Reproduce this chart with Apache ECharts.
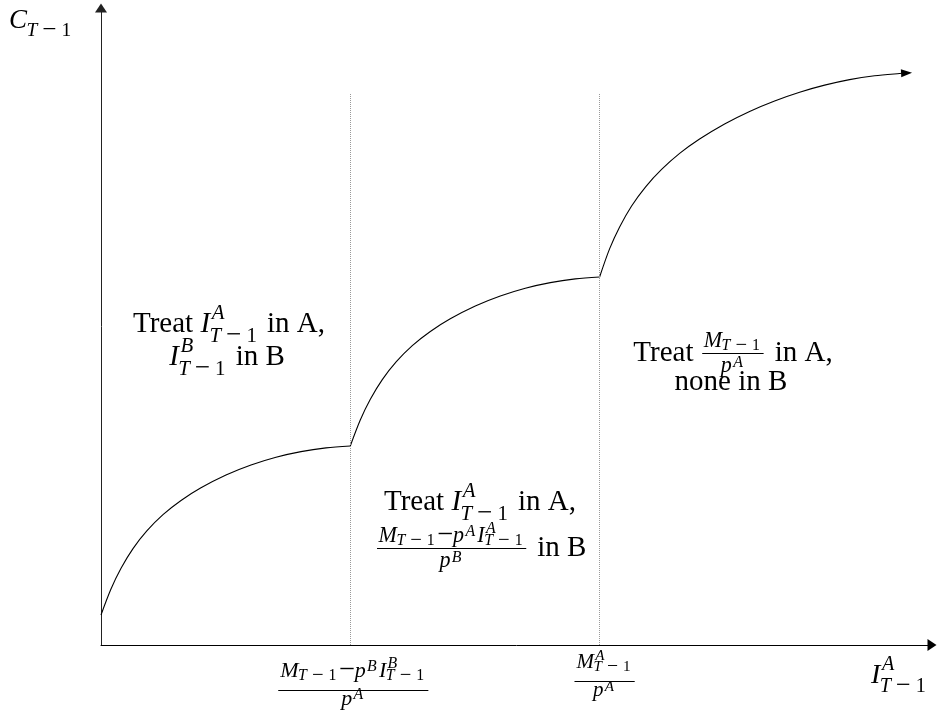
<!DOCTYPE html>
<html>
<head>
<meta charset="utf-8">
<script src="https://cdn.jsdelivr.net/npm/echarts@6/dist/echarts.min.js"></script>
<style>
html, body { margin: 0; padding: 0; background: #fff; }
#chart { width: 939px; height: 713px; }
</style>
</head>
<body>
<div id="chart"></div>
<script>
// curve pieces, axis units (x: 0..100, y: 0..100)
const seg1X = [0, 1.2, 2.41, 3.85, 5.54, 7.46, 9.63, 12.03, 15.04, 18.05, 21.06, 24.07, 27.08, 30];
const seg1Y = [4.71, 8.78, 12.04, 15.13, 17.94, 20.46, 22.69, 24.68, 26.69, 28.26, 29.48, 30.36, 30.94, 31.24];
const seg2X = [30, 31.2, 32.41, 33.85, 35.54, 37.46, 39.63, 42.03, 45.04, 48.05, 51.06, 54.07, 57.08, 60];
const seg2Y = [31.24, 35.31, 38.57, 41.66, 44.47, 46.99, 49.22, 51.21, 53.22, 54.79, 56.01, 56.89, 57.47, 57.77];
const seg3X = [60, 61.2, 62.41, 63.85, 65.54, 67.46, 69.63, 72.03, 75.04, 78.05, 81.06, 84.07, 87.08, 90.08, 93.09, 96.1, 96.94];
const seg3Y = [57.77, 62.18, 65.62, 68.92, 71.93, 74.65, 77.17, 79.43, 81.8, 83.77, 85.41, 86.78, 87.89, 88.76, 89.36, 89.72, 89.79];
// dotted guides at the two kinks
const guideX = [30, 60];
const guideTop = 86.66;

const FONT = '"Liberation Serif", "Times New Roman", serif';
const SR = 0.72;   // script size ratio
const KM = 0.32;   // middle -> baseline
const meas = document.createElement('canvas').getContext('2d');

function tw(t, size, it) {
  meas.font = (it ? 'italic ' : '') + size + 'px ' + FONT;
  return meas.measureText(t).width;
}
function put(out, t, x, base, size, it) {
  out.push({
    type: 'text', x: x, y: base - KM * size, silent: true,
    style: {
      text: t, fontSize: size, fontFamily: FONT, fontStyle: it ? 'italic' : 'normal',
      fill: '#000', align: 'left', verticalAlign: 'middle'
    }
  });
}
function bar(out, x1, x2, y) {
  out.push({ type: 'line', silent: true,
    shape: { x1: x1, y1: Math.round(y) + 0.5, x2: x2, y2: Math.round(y) + 0.5 },
    style: { stroke: '#000', lineWidth: 1 } });
}
// tiny math layout: string = roman, ['i',t] italic, ['g',px] gap, ['m'] wide minus,
// ['s',base,sup,sub] scripts, ['f',num,den] inline fraction
function lay(toks, size, x, base, out, fr) {
  let cx = x;
  toks.forEach(function (tk) {
    if (typeof tk === 'string') {
      if (out) put(out, tk, cx, base, size, false);
      cx += tw(tk, size, false);
    } else if (tk[0] === 'i') {
      if (out) put(out, tk[1], cx, base, size, true);
      cx += tw(tk[1], size, true);
    } else if (tk[0] === 'g') {
      cx += tk[1];
    } else if (tk[0] === 'm') {
      const ms = size * 1.3;
      if (out) put(out, '\u2212', cx, base + size * 0.07, ms, false);
      cx += tw('\u2212', ms, false);
    } else if (tk[0] === 's') {
      const bw = lay([tk[1]], size, cx, base, out, fr);
      const ss = Math.max(size * SR, 14);
      const hasSub = tk[3] && tk[3].length;
      const up = fr ? (hasSub ? 0.4 : 0.26) : (hasSub ? 0.48 : 0.45);
      const dn = fr ? 0.15 : (tk[2] ? 0.3 : 0.25);
      let wSup = 0, wSub = 0;
      if (tk[2] && tk[2].length) {
        wSup = lay(tk[2], ss, cx + bw + size * 0.06, base - size * up, out, fr) + size * 0.06;
      }
      if (hasSub) {
        wSub = lay(tk[3], ss, cx + bw - size * 0.02, base + size * dn, out, fr) - size * 0.02;
      }
      cx += bw + Math.max(wSup, wSub) + size * 0.1;
    } else if (tk[0] === 'f') {
      const fs = size * 0.76;
      const nw = lay(tk[1], fs, 0, 0, null, true);
      const dw = lay(tk[2], fs, 0, 0, null, true);
      const w = Math.max(nw, dw) + size * 0.2;
      const by = base - size * 0.34;
      if (out) {
        lay(tk[1], fs, cx + (w - nw) / 2, by - size * 0.18, out, true);
        lay(tk[2], fs, cx + (w - dw) / 2, by + size * 0.7, out, true);
        bar(out, cx + size * 0.05, cx + w - size * 0.05, by);
      }
      cx += w + size * 0.08;
    }
  });
  return cx - x;
}
function center(toks, size, cx, base, out) {
  const w = lay(toks, size, 0, 0, null, false);
  lay(toks, size, cx - w / 2, base, out, false);
}
function tickFrac(num, den, size, cx, by, out) {
  const nw = lay(num, size, 0, 0, null, true);
  const dw = lay(den, size, 0, 0, null, true);
  const w = Math.max(nw, dw) + 4;
  lay(num, size, cx - nw / 2, by - 12, out, true);
  lay(den, size, cx - dw / 2, by + 16, out, true);
  bar(out, cx - w / 2, cx + w / 2, by);
}

const T1 = [['i', 'T'], ['g', 5], ['m'], ['g', 5], '1'];
const IA = ['s', ['i', 'I'], [['i', 'A']], T1];
const IB = ['s', ['i', 'I'], [['i', 'B']], T1];
const MT = ['s', ['i', 'M'], null, T1];
const MA = ['s', ['i', 'M'], [['i', 'A']], T1];
const pA = ['s', ['i', 'p'], [['i', 'A']], null];
const pB = ['s', ['i', 'p'], [['i', 'B']], null];
const MINUS = ['m'];

const chart = echarts.init(document.getElementById('chart'), null, { renderer: 'canvas' });

function curve(xs, ys, arrow) {
  return xs.map(function (x, i) {
    if (arrow && i === xs.length - 1) {
      return { value: [x, ys[i]], symbol: 'triangle', symbolSize: [8, 11], symbolRotate: -87,
        itemStyle: { color: '#000' } };
    }
    return [x, ys[i]];
  });
}
const lineSeries = function (data, extra) {
  return Object.assign({
    type: 'line', data: data, smooth: 0.3,
    symbol: 'none', showSymbol: true, showAllSymbol: true,
    lineStyle: { color: '#000', width: 1.1 }, itemStyle: { color: '#000' }, silent: true, z: 3
  }, extra || {});
};

chart.setOption({
  animation: false,
  grid: { left: 101, right: 7, top: 8, bottom: 68 },
  xAxis: {
    type: 'value', min: 0, max: 100,
    axisLine: { onZero: false, symbol: ['none', 'triangle'], symbolSize: [12, 9],
      lineStyle: { color: '#000', width: 1 } },
    axisTick: { show: false }, axisLabel: { show: false }, splitLine: { show: false }
  },
  yAxis: {
    type: 'value', min: 0, max: 100,
    axisLine: { onZero: false, symbol: ['none', 'triangle'], symbolSize: [12, 9],
      lineStyle: { color: '#222', width: 1 } },
    axisTick: { show: false }, axisLabel: { show: false }, splitLine: { show: false }
  },
  series: [
    lineSeries(curve(seg1X, seg1Y), {
      markLine: {
        silent: true, symbol: ['none', 'none'], label: { show: false },
        lineStyle: { type: 'dotted', color: '#999', width: 1 },
        data: guideX.map(function (g) { return [{ coord: [g, 0] }, { coord: [g, guideTop] }]; })
      }
    }),
    lineSeries(curve(seg2X, seg2Y)),
    lineSeries(curve(seg3X, seg3Y, true))
  ]
});

// text overlay
const g = [];
const px1 = chart.convertToPixel({ gridIndex: 0 }, [guideX[0], 0])[0];
const px2 = chart.convertToPixel({ gridIndex: 0 }, [guideX[1], 0])[0];

// axis names
lay([['s', ['i', 'C'], null, T1]], 27, 9, 30, g, false);
lay([IA], 28, 871, 685, g, false);

// tick labels under the kinks
tickFrac([MT, MINUS, pB, IB], [pA], 22, px1 + 3, 690, g);
tickFrac([MA], [pA], 21, px2 + 5, 681, g);

// region notes
center(['Treat ', IA, ' in A,'], 29, 229, 334, g);
center([IB, ' in B'], 29, 227, 367, g);

center(['Treat ', IA, ' in A,'], 29, 480, 512, g);
center([['f', [MT, MINUS, pA, IA], [pB]], ' in B'], 29, 481, 558, g);

center(['Treat ', ['f', [MT], [pA]], ' in A,'], 29, 733, 363, g);
center(['none in B'], 29, 731, 392, g);

chart.setOption({ graphic: { elements: g } });
</script>
</body>
</html>
